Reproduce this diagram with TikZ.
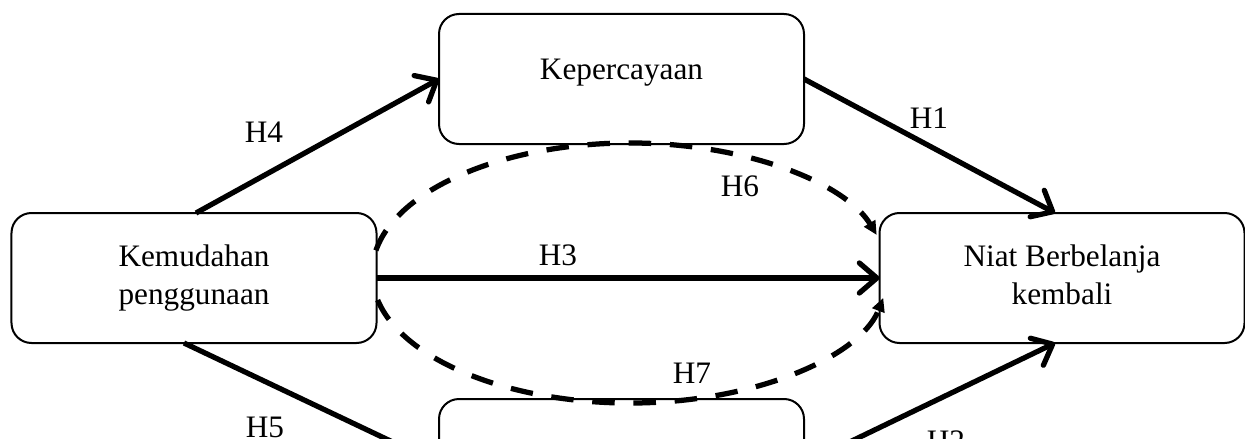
\documentclass[tikz,border=0pt]{standalone}
\usepackage{fontspec}
\setmainfont{Liberation Serif}
\usetikzlibrary{arrows.meta,calc}
\begin{document}
\begin{tikzpicture}[x=0.4pt,y=-0.4pt,
  box/.style={draw,line width=0.8pt,rounded corners=8pt,minimum width=146pt,
    minimum height=52pt,inner sep=0pt,outer sep=0pt,align=center,
    font=\fontsize{12.5pt}{15.2pt}\selectfont},
  hyp/.style={anchor=base,inner sep=0pt,font=\fontsize{12.5pt}{15pt}\selectfont},
  link/.style={line width=2.1pt,-{Straight Barb[length=7pt,width=12pt,round]}},
  medlink/.style={line width=2.1pt,dash pattern=on 9pt off 7.5pt,
    -{Triangle[length=5.5pt,width=5pt]}}]
\useasboundingbox (0,0) rectangle (1245,439);
\clip (0,0) rectangle (1245,439);
\fill[white] (0,0) rectangle (1245,439);

% constructs
\node[box,text height=8.5pt,text depth=7.7pt] (kep) at (621.5,79) {Kepercayaan};
\node[box] (kem) at (194,278) {Kemudahan\\penggunaan};
\node[box] (niat) at (1062,278) {Niat Berbelanja\\kembali\vphantom{g}};
\node[box] (bot) at (621.5,464) {};

% direct paths
\draw[link] ($(kem.north)+(2,0)$) -- (kep.west);
\draw[link] (kep.east) -- ($(niat.north)+(-7,0)$);
\draw[link] (kem.east) -- (niat.west);
\draw[link] ($(kem.south)+(-10,0)$) -- (bot.west);
\draw[link] (bot.east) -- ($(niat.south)+(-7,0)$);

% mediated paths around the direct one
\coordinate (ec) at (630,273);
\draw[medlink] ($(ec)+(190:258 and 130)$) arc[start angle=190,end angle=343,x radius=258,y radius=130];
\draw[medlink] ($(ec)+(168:258 and 130)$) arc[start angle=168,end angle=11,x radius=258,y radius=130];

% hypothesis labels
\node[hyp] (h1) at (929,128) {H1};
\node[hyp] (h2) at (946,451) {H2};
\node[hyp] (h3) at (558,265) {H3};
\node[hyp] (h4) at (264,143) {H4};
\node[hyp] (h5) at (265,437) {H5};
\node[hyp] (h6) at (740,197) {H6};
\node[hyp] (h7) at (692,383) {H7};
\end{tikzpicture}
\end{document}
